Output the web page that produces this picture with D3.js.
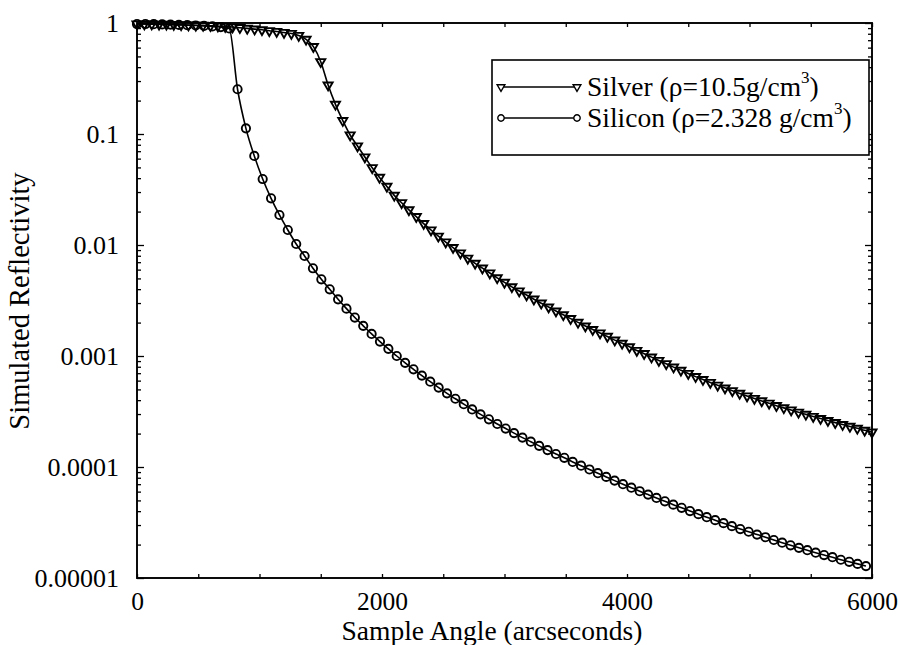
<!DOCTYPE html>
<html>
<head>
<meta charset="utf-8">
<script src="https://cdn.jsdelivr.net/npm/d3@7"></script>
<style>
  body { margin: 0; background: #fff; }
  svg { display: block; }
  svg text { font-family: "Liberation Serif", Tinos, "Times New Roman", "DejaVu Serif", serif !important; fill: #000; }
</style>
</head>
<body>
<svg id="chart" width="899" height="645"></svg>
<script>
// Sample angle (arcseconds) and simulated reflectivity for each material
const silverAngle = [
  0, 60, 120, 180, 240, 300, 360, 420, 480, 540,
  600, 660, 720, 780, 840, 900, 960, 1020, 1080, 1140,
  1200, 1260, 1320, 1380, 1440, 1500, 1560, 1620, 1680, 1740,
  1800, 1860, 1920, 1980, 2040, 2100, 2160, 2220, 2280, 2340,
  2400, 2460, 2520, 2580, 2640, 2700, 2760, 2820, 2880, 2940,
  3000, 3060, 3120, 3180, 3240, 3300, 3360, 3420, 3480, 3540,
  3600, 3660, 3720, 3780, 3840, 3900, 3960, 4020, 4080, 4140,
  4200, 4260, 4320, 4380, 4440, 4500, 4560, 4620, 4680, 4740,
  4800, 4860, 4920, 4980, 5040, 5100, 5160, 5220, 5280, 5340,
  5400, 5460, 5520, 5580, 5640, 5700, 5760, 5820, 5880, 5940,
  6000
];
const silverR = [
  0.979, 0.979, 0.977, 0.975, 0.973, 0.969, 0.965, 0.959, 0.955, 0.951,
  0.946, 0.940, 0.930, 0.920, 0.907, 0.894, 0.881, 0.868, 0.852, 0.838,
  0.821, 0.804, 0.772, 0.713, 0.612, 0.448, 0.276, 0.185, 0.132, 0.0980,
  0.0780, 0.0621, 0.0496, 0.0406, 0.0337, 0.0280, 0.0240, 0.0207, 0.0180, 0.0156,
  0.01365, 0.0120, 0.01064, 0.00948, 0.00847, 0.00760, 0.00684, 0.00618, 0.00559, 0.00506,
  0.00460, 0.00420, 0.00385, 0.00354, 0.00325, 0.00299, 0.00276, 0.00254, 0.00235, 0.00217,
  0.00201, 0.00186, 0.00173, 0.00161, 0.00150, 0.00139, 0.00130, 0.00121, 0.00112, 0.00105,
  0.000977, 0.000911, 0.000851, 0.000794, 0.000743, 0.000696, 0.000652, 0.000613, 0.000577, 0.000545,
  0.000514, 0.000486, 0.000460, 0.000436, 0.000414, 0.000394, 0.000375, 0.000357, 0.000341, 0.000326,
  0.000311, 0.000298, 0.000285, 0.000273, 0.000262, 0.000251, 0.000241, 0.000232, 0.000223, 0.000214,
  0.000206
];
const siliconAngle = [
  0, 68.4, 136.8, 205.2, 273.6, 342, 410.4, 478.8, 547.2, 615.6,
  684, 752.4, 820.8, 889.2, 957.6, 1026, 1094.4, 1162.8, 1231.2, 1299.6,
  1368, 1436.4, 1504.8, 1573.2, 1641.6, 1710, 1778.4, 1846.8, 1915.2, 1983.6,
  2052, 2120.4, 2188.8, 2257.2, 2325.6, 2394, 2462.4, 2530.8, 2599.2, 2667.6,
  2736, 2804.4, 2872.8, 2941.2, 3009.6, 3078, 3146.4, 3214.8, 3283.2, 3351.6,
  3420, 3488.4, 3556.8, 3625.2, 3693.6, 3762, 3830.4, 3898.8, 3967.2, 4035.6,
  4104, 4172.4, 4240.8, 4309.2, 4377.6, 4446, 4514.4, 4582.8, 4651.2, 4719.6,
  4788, 4856.4, 4924.8, 4993.2, 5061.6, 5130, 5198.4, 5266.8, 5335.2, 5403.6,
  5472, 5540.4, 5608.8, 5677.2, 5745.6, 5814, 5882.4, 5950.8
];
const siliconR = [
  0.979, 0.979, 0.975, 0.971, 0.967, 0.961, 0.955, 0.950, 0.942, 0.932,
  0.918, 0.892, 0.253, 0.1125, 0.0634, 0.0393, 0.02635, 0.01864, 0.01365, 0.01021,
  0.00796, 0.00617, 0.00491, 0.00399, 0.00324, 0.00267, 0.00222, 0.00187, 0.00158, 0.00135,
  0.00116, 0.00100, 0.000868, 0.000759, 0.000666, 0.000587, 0.000519, 0.000461, 0.000412, 0.000368,
  0.000330, 0.000298, 0.000269, 0.000244, 0.000222, 0.000202, 0.000184, 0.000169, 0.000155, 0.000142,
  0.000131, 0.000121, 0.000111, 0.0001027, 0.0000950, 0.0000879, 0.0000814, 0.0000754, 0.0000700, 0.0000651,
  0.0000605, 0.0000564, 0.0000526, 0.0000491, 0.0000458, 0.0000429, 0.0000401, 0.0000376, 0.0000353, 0.0000332,
  0.0000312, 0.0000293, 0.0000276, 0.0000261, 0.0000246, 0.0000233, 0.0000220, 0.0000208, 0.0000197, 0.0000187,
  0.0000178, 0.0000169, 0.0000161, 0.0000154, 0.0000146, 0.0000140, 0.0000134, 0.0000128
];

const xTickValues = [0, 2000, 4000, 6000];
const yTickValues = [1, 0.1, 0.01, 0.001, 0.0001, 0.00001];
const yTickLabels = ["1", "0.1", "0.01", "0.001", "0.0001", "0.00001"];
const legendNames = [
  { name: "Silver (\u03C1=10.5g/cm", sup: "3", tail: ")" },
  { name: "Silicon (\u03C1=2.328 g/cm", sup: "3", tail: ")" }
];
const xTitle = "Sample Angle (arcseconds)";
const yTitle = "Simulated Reflectivity";

(function () {
  const svg = d3.select("#chart");
  const pLeft = 137, pRight = 872, pTop = 23, pBottom = 578;
  const serif = "'Liberation Serif', Tinos, 'Times New Roman', 'DejaVu Serif', serif";

  const x = d3.scaleLinear().domain([0, 6000]).range([pLeft, pRight]);
  const y = d3.scaleLog().domain([1e-5, 1]).range([pBottom, pTop]);

  // minor tick positions
  const xMinor = d3.range(0, 6001, 500);
  const yMinor = [];
  for (let e = -5; e < 0; e++) for (let m = 1; m < 10; m++) yMinor.push(m * Math.pow(10, e));
  yMinor.push(1);

  const isMajorX = v => xTickValues.includes(v);
  const isMajorY = v => yTickValues.some(t => Math.abs(t - v) / t < 1e-9);

  function styleAxis(g) {
    g.attr("font-family", serif);
    g.select(".domain").remove();
    g.selectAll(".tick line").attr("stroke", "#000").attr("stroke-width", 1.3);
  }

  // bottom axis with labels
  svg.append("g")
    .attr("transform", `translate(0,${pBottom})`)
    .call(d3.axisBottom(x).tickValues(xMinor).tickSize(-4).tickPadding(14)
      .tickFormat(d => isMajorX(d) ? String(d) : ""))
    .call(styleAxis)
    .call(g => g.selectAll(".tick text").attr("font-size", 25.5).attr("fill", "#000"));

  // top axis, ticks only
  svg.append("g")
    .attr("transform", `translate(0,${pTop})`)
    .call(d3.axisTop(x).tickValues(xMinor).tickSize(-4).tickFormat(""))
    .call(styleAxis);

  // left axis with decade labels
  svg.append("g")
    .attr("transform", `translate(${pLeft},0)`)
    .call(d3.axisLeft(y).tickValues(yMinor).tickSize(-4).tickPadding(18)
      .tickFormat(d => {
        const i = yTickValues.findIndex(t => Math.abs(t - d) / t < 1e-9);
        return i >= 0 ? yTickLabels[i] : "";
      }))
    .call(styleAxis)
    .call(g => g.selectAll(".tick line").attr("x2", d => isMajorY(d) ? 7 : 4))
    .call(g => g.selectAll(".tick text").attr("font-size", 26).attr("fill", "#000"));

  // right axis, ticks only
  svg.append("g")
    .attr("transform", `translate(${pRight},0)`)
    .call(d3.axisRight(y).tickValues(yMinor).tickSize(-4).tickFormat(""))
    .call(styleAxis)
    .call(g => g.selectAll(".tick line").attr("x2", d => isMajorY(d) ? -7 : -4));

  // plot frame
  svg.append("rect")
    .attr("x", pLeft).attr("y", pTop)
    .attr("width", pRight - pLeft).attr("height", pBottom - pTop)
    .attr("fill", "none").attr("stroke", "#000").attr("stroke-width", 1.9);

  const line = d3.line().x(d => x(d[0])).y(d => y(d[1])).curve(d3.curveMonotoneX);
  const silverData = silverAngle.map((a, i) => [a, silverR[i]]);
  const siliconData = siliconAngle.map((a, i) => [a, siliconR[i]]);

  const plot = svg.append("g");
  const triPath = d3.symbol().type(d3.symbolTriangle).size(36)();
  const circPath = d3.symbol().type(d3.symbolCircle).size(54)();

  function drawSeries(data, shape, flip) {
    plot.append("path").datum(data)
      .attr("d", line).attr("fill", "none").attr("stroke", "#000").attr("stroke-width", 1.6);
    plot.append("g").selectAll("path").data(data).join("path")
      .attr("d", shape)
      .attr("transform", d => `translate(${x(d[0])},${y(d[1])})` + (flip ? " rotate(180)" : ""))
      .attr("fill", "none").attr("stroke", "#000").attr("stroke-width", 1.9);
  }
  drawSeries(siliconData, circPath, false);
  drawSeries(silverData, triPath, true);

  // legend
  const lg = svg.append("g").attr("font-family", serif);
  lg.append("rect").attr("x", 492).attr("y", 60).attr("width", 377).attr("height", 95)
    .attr("fill", "#fff").attr("stroke", "#000").attr("stroke-width", 1.6);
  const legendShapes = [
    d3.symbol().type(d3.symbolTriangle).size(26)(),
    d3.symbol().type(d3.symbolCircle).size(32)()
  ];
  legendNames.forEach((item, i) => {
    const cy = 87 + i * 31;
    lg.append("line").attr("x1", 501).attr("x2", 577).attr("y1", cy).attr("y2", cy)
      .attr("stroke", "#000").attr("stroke-width", 1.5);
    [501, 577].forEach(cx => {
      lg.append("path").attr("d", legendShapes[i])
        .attr("transform", `translate(${cx},${cy})` + (i === 0 ? " rotate(180)" : ""))
        .attr("fill", "#fff").attr("stroke", "#000").attr("stroke-width", 1.4);
    });
    const t = lg.append("text").attr("x", 587).attr("y", cy + 9).attr("font-size", 27.5);
    t.append("tspan").text(item.name);
    t.append("tspan").attr("font-size", 17).attr("dy", -13).text(item.sup);
    t.append("tspan").attr("dy", 13).text(item.tail);
  });

  // axis titles
  svg.append("text").attr("x", 492).attr("y", 640).attr("text-anchor", "middle")
    .attr("font-family", serif).attr("font-size", 27.5).text(xTitle);
  svg.append("text").attr("transform", "translate(29,301) rotate(-90)")
    .attr("font-family", serif).attr("text-anchor", "middle").attr("font-size", 28.5).text(yTitle);
})();
</script>
</body>
</html>
